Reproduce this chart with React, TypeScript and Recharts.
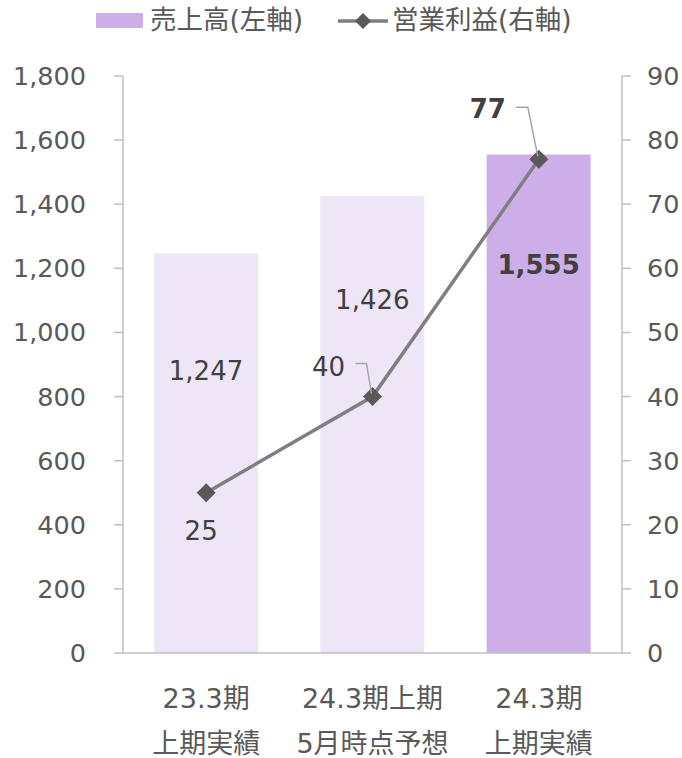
import React from 'react';
import { ComposedChart, Bar, Line, XAxis, YAxis, Cell, LabelList } from 'recharts';

const categoryLine1 = ['23.3期', '24.3期上期', '24.3期'];
const categoryLine2 = ['上期実績', '5月時点予想', '上期実績'];
const salesValues = [1247, 1426, 1555];
const profitValues = [25, 40, 77];
const leftTicks = [0, 200, 400, 600, 800, 1000, 1200, 1400, 1600, 1800];
const rightTicks = [0, 10, 20, 30, 40, 50, 60, 70, 80, 90];
const seriesNames = ['売上高(左軸)', '営業利益(右軸)'];

const data = categoryLine1.map((c, i) => ({
  name: c,
  line2: categoryLine2[i],
  sales: salesValues[i],
  profit: profitValues[i],
}));

const FONT = '"DejaVu Sans", "Noto Sans CJK JP", sans-serif';
const AXIS = '#BFBFBF';
const TEXT = '#595959';
const LABEL = '#404040';
const LIGHT = '#EEE6F7';
const DARK = '#CDAEE9';
const LINE = '#7F7F7F';
const MARKER = '#595959';

const barColors = [LIGHT, LIGHT, DARK];
const barLabelDy = [118, 104, 110];
const boldIndex = 2;
const lineLabelCfg = [
  { dx: -5, dy: 38, leader: null as null | number[][] },
  { dx: -44, dy: -30, leader: [[-1, -3], [-6, -33], [-17, -33]] },
  { dx: -51, dy: -50, leader: [[-1, -3], [-11, -52], [-23, -52]] },
];

const fmt = (v: number) => v.toLocaleString('en-US');

const XTick = (props: any) => {
  const { x, y, payload, index } = props;
  const i = payload && payload.index != null ? payload.index : index;
  return (
    <text x={x} y={y} textAnchor="middle" fill={TEXT} fontSize={27} fontFamily={FONT}>
      <tspan x={x} dy={55}>{categoryLine1[i]}</tspan>
      <tspan x={x} dy={45}>{categoryLine2[i]}</tspan>
    </text>
  );
};

const BarLabel = (props: any) => {
  const { x, y, width, value, index } = props;
  return (
    <text
      x={Number(x) + Number(width) / 2}
      y={Number(y) + barLabelDy[index]}
      textAnchor="middle"
      dominantBaseline="central"
      fill={LABEL}
      fontSize={26}
      fontWeight={index === boldIndex ? 'bold' : 'normal'}
      fontFamily={FONT}
    >
      {fmt(Number(value))}
    </text>
  );
};

const LineLabel = (props: any) => {
  const { x, y, value, index } = props;
  const cfg = lineLabelCfg[index];
  const cx = Number(x);
  const cy = Number(y);
  return (
    <g>
      {cfg.leader && (
        <polyline
          points={cfg.leader.map((p) => `${cx + p[0]},${cy + p[1]}`).join(' ')}
          fill="none"
          stroke="#A6A6A6"
          strokeWidth={1.5}
        />
      )}
      <text
        x={cx + cfg.dx}
        y={cy + cfg.dy}
        textAnchor="middle"
        dominantBaseline="central"
        fill={LABEL}
        fontSize={26}
        fontWeight={index === boldIndex ? 'bold' : 'normal'}
        fontFamily={FONT}
      >
        {fmt(Number(value))}
      </text>
    </g>
  );
};

const Diamond = (props: any) => {
  const { cx, cy } = props;
  if (cx == null || cy == null) return <g />;
  const r = 9.5;
  return (
    <path
      d={`M${cx},${cy - r} L${cx + r},${cy} L${cx},${cy + r} L${cx - r},${cy} Z`}
      fill={MARKER}
      stroke="none"
    />
  );
};

const LegendOverlay = () => (
  <div style={{ position: 'absolute', left: 0, top: 0, width: 682, height: 42, fontFamily: FONT, fontSize: 26.5, color: TEXT }}>
    <div style={{ position: 'absolute', left: 96, top: 13, width: 47, height: 15, background: DARK }} />
    <div style={{ position: 'absolute', left: 150, top: 4, lineHeight: '32px', whiteSpace: 'nowrap' }}>{seriesNames[0]}</div>
    <svg style={{ position: 'absolute', left: 336, top: 8 }} width={54} height={26}>
      <line x1={2} y1={13} x2={52} y2={13} stroke={LINE} strokeWidth={3.5} />
      <path d="M27,5 L35,13 L27,21 L19,13 Z" fill={MARKER} />
    </svg>
    <div style={{ position: 'absolute', left: 392, top: 4, lineHeight: '32px', whiteSpace: 'nowrap' }}>{seriesNames[1]}</div>
  </div>
);

export default function App() {
  return (
    <div style={{ position: 'absolute', left: 0, top: 0, width: 682, height: 758, background: '#fff' }}>
      <ComposedChart
        width={682}
        height={758}
        data={data}
        margin={{ top: 76, right: 0, bottom: 0, left: 0 }}
      >
        <XAxis
          dataKey="name"
          xAxisId="x"
          height={105}
          axisLine={{ stroke: AXIS, strokeWidth: 1.5 }}
          tickLine={false}
          tickSize={0}
          tickMargin={0}
          tick={<XTick />}
          interval={0}
        />
        <YAxis
          yAxisId="left"
          orientation="left"
          width={123}
          domain={[0, 1800]}
          ticks={leftTicks}
          interval={0}
          tickFormatter={fmt}
          axisLine={{ stroke: AXIS, strokeWidth: 1.5 }}
          tickLine={{ stroke: AXIS, strokeWidth: 1.5 }}
          tickSize={9}
          tickMargin={28}
          tick={{ fill: TEXT, fontSize: 25.5, fontFamily: FONT }}
        />
        <YAxis
          yAxisId="right"
          orientation="right"
          width={60}
          domain={[0, 90]}
          ticks={rightTicks}
          interval={0}
          axisLine={{ stroke: AXIS, strokeWidth: 1.5 }}
          tickLine={{ stroke: AXIS, strokeWidth: 1.5 }}
          tickSize={9}
          tickMargin={16}
          tick={{ fill: TEXT, fontSize: 25.5, fontFamily: FONT }}
        />
        <Bar dataKey="sales" xAxisId="x" yAxisId="left" barSize={104} isAnimationActive={false}>
          {data.map((_, i) => (
            <Cell key={i} fill={barColors[i]} />
          ))}
          <LabelList dataKey="sales" content={<BarLabel />} />
        </Bar>
        <Line
          dataKey="profit"
          xAxisId="x"
          yAxisId="right"
          stroke={LINE}
          strokeWidth={3.5}
          dot={<Diamond />}
          activeDot={false}
          isAnimationActive={false}
        >
          <LabelList dataKey="profit" content={<LineLabel />} />
        </Line>
      </ComposedChart>
      <LegendOverlay />
    </div>
  );
}
